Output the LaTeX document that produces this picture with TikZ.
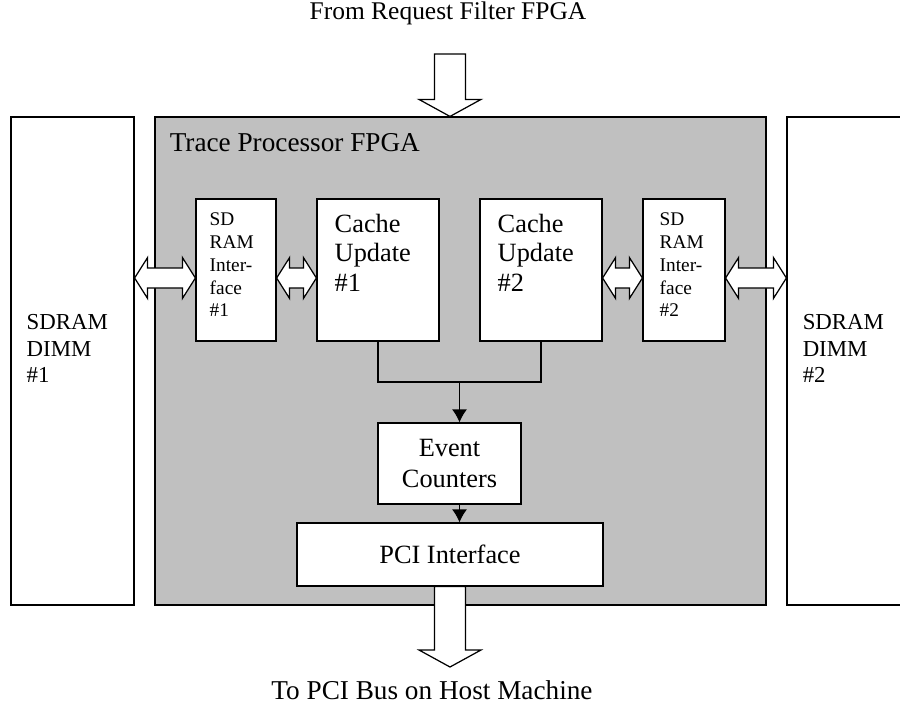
\documentclass[tikz,border=0pt]{standalone}
\usepackage{fontspec}
\setmainfont{Liberation Serif}
\usetikzlibrary{calc,arrows.meta}
\definecolor{fpgagray}{RGB}{192,192,192}

\tikzset{
  block/.style={draw=black,line width=0.7pt,fill=white,inner sep=0pt},
  fatarrow/.style={draw=black,line width=0.7pt,fill=white,line join=miter},
  wire/.style={draw=black,line width=0.7pt},
  boxtxt/.style={anchor=north west,inner sep=0pt,align=left},
  bigfont/.style={font=\fontsize{14.5}{17}\selectfont},
  cachefont/.style={font=\fontsize{15}{17}\selectfont},
  sdfont/.style={font=\fontsize{11}{13}\selectfont},
  dimmfont/.style={font=\fontsize{13}{15.3}\selectfont}
}

\newcommand{\dblarrow}[2]{%
  \draw[fatarrow] let \p1=(#1), \p2=(#2) in
    (\x1,\y1) -- (\x1+0.26cm,\y1+0.41cm) -- (\x1+0.26cm,\y1+0.2cm)
    -- (\x2-0.26cm,\y1+0.2cm) -- (\x2-0.26cm,\y1+0.41cm) -- (\x2,\y1)
    -- (\x2-0.26cm,\y1-0.41cm) -- (\x2-0.26cm,\y1-0.2cm)
    -- (\x1+0.26cm,\y1-0.2cm) -- (\x1+0.26cm,\y1-0.41cm) -- cycle;}
\newcommand{\fatdown}[2]{%
  \draw[fatarrow] let \p1=(#1), \p2=(#2) in
    (\x2,\y2) -- (\x2-0.62cm,\y2+0.34cm) -- (\x2-0.31cm,\y2+0.34cm)
    -- (\x2-0.31cm,\y1) -- (\x2+0.31cm,\y1) -- (\x2+0.31cm,\y2+0.34cm)
    -- (\x2+0.62cm,\y2+0.34cm) -- cycle;}

\begin{document}
\begin{tikzpicture}[x=0.02cm,y=-0.02cm]
  \useasboundingbox (0,0) rectangle (900,704);
  \clip (0,0) rectangle (900,704);

  \node[bigfont,inner sep=0pt] (fromtxt) at (448,13) {From Request Filter FPGA};
  \node[font=\fontsize{15.5}{17}\selectfont,inner sep=0pt] (totxt) at (432,690) {To PCI Bus on Host Machine};

  \node[block,minimum width=2.46cm,minimum height=9.76cm,
        label={[anchor=west,xshift=0.32cm,yshift=0.25cm,inner sep=0pt,align=left,dimmfont]west:SDRAM\\DIMM\\\#1}]
        (dimmA) at (72.5,361) {};
  \node[block,minimum width=2.46cm,minimum height=9.76cm,
        label={[anchor=west,xshift=0.32cm,yshift=0.25cm,inner sep=0pt,align=left,dimmfont]west:SDRAM\\DIMM\\\#2}]
        (dimmB) at (848.5,361) {};

  \node[block,fill=fpgagray,minimum width=12.22cm,minimum height=9.76cm,
        label={[boxtxt,xshift=0.3cm,yshift=-0.34cm,font=\fontsize{15.5}{17}\selectfont]north west:Trace Processor FPGA}]
        (fpga) at (460.5,361) {};

  \node[block,minimum width=1.6cm,minimum height=2.84cm,
        label={[boxtxt,xshift=0.28cm,yshift=-0.28cm,sdfont]north west:SD\\RAM\\Inter-\\face\\\#1}]
        (sdifA) at (236,270) {};
  \node[block,minimum width=2.44cm,minimum height=2.84cm,
        label={[boxtxt,xshift=0.36cm,yshift=-0.3cm,cachefont]north west:Cache\\Update\\\#1}]
        (cacheA) at (378,270) {};
  \node[block,minimum width=2.44cm,minimum height=2.84cm,
        label={[boxtxt,xshift=0.36cm,yshift=-0.3cm,cachefont]north west:Cache\\Update\\\#2}]
        (cacheB) at (541,270) {};
  \node[block,minimum width=1.64cm,minimum height=2.84cm,
        label={[boxtxt,xshift=0.34cm,yshift=-0.28cm,sdfont]north west:SD\\RAM\\Inter-\\face\\\#2}]
        (sdifB) at (684,270) {};

  \node[block,minimum width=2.86cm,minimum height=1.62cm,align=center,
        font=\fontsize{15}{18}\selectfont] (counters) at (449.5,463.5) {Event\\Counters};
  \node[block,minimum width=6.12cm,minimum height=1.26cm,cachefont] (pci) at (450,554.5) {PCI Interface};

  \coordinate (lane) at (0,278);
  \coordinate (merge) at (459.5,382);
  \coordinate (topin) at (450,54);
  \coordinate (botout) at (450,667);

  \dblarrow{dimmA.east |- lane}{sdifA.west |- lane}
  \dblarrow{sdifA.east |- lane}{cacheA.west |- lane}
  \dblarrow{cacheB.east |- lane}{sdifB.west |- lane}
  \dblarrow{sdifB.east |- lane}{dimmB.west |- lane}

  \fatdown{topin}{topin |- fpga.north}
  \fatdown{botout |- pci.south}{botout}

  \draw[wire] (cacheA.south) |- (merge) -| (cacheB.south);
  \draw[wire,-{Latex[length=0.26cm,width=0.3cm]}] (merge) -- (merge |- counters.north);
  \draw[wire,-{Latex[length=0.26cm,width=0.3cm]}] (merge |- counters.south) -- (merge |- pci.north);
\end{tikzpicture}
\end{document}
